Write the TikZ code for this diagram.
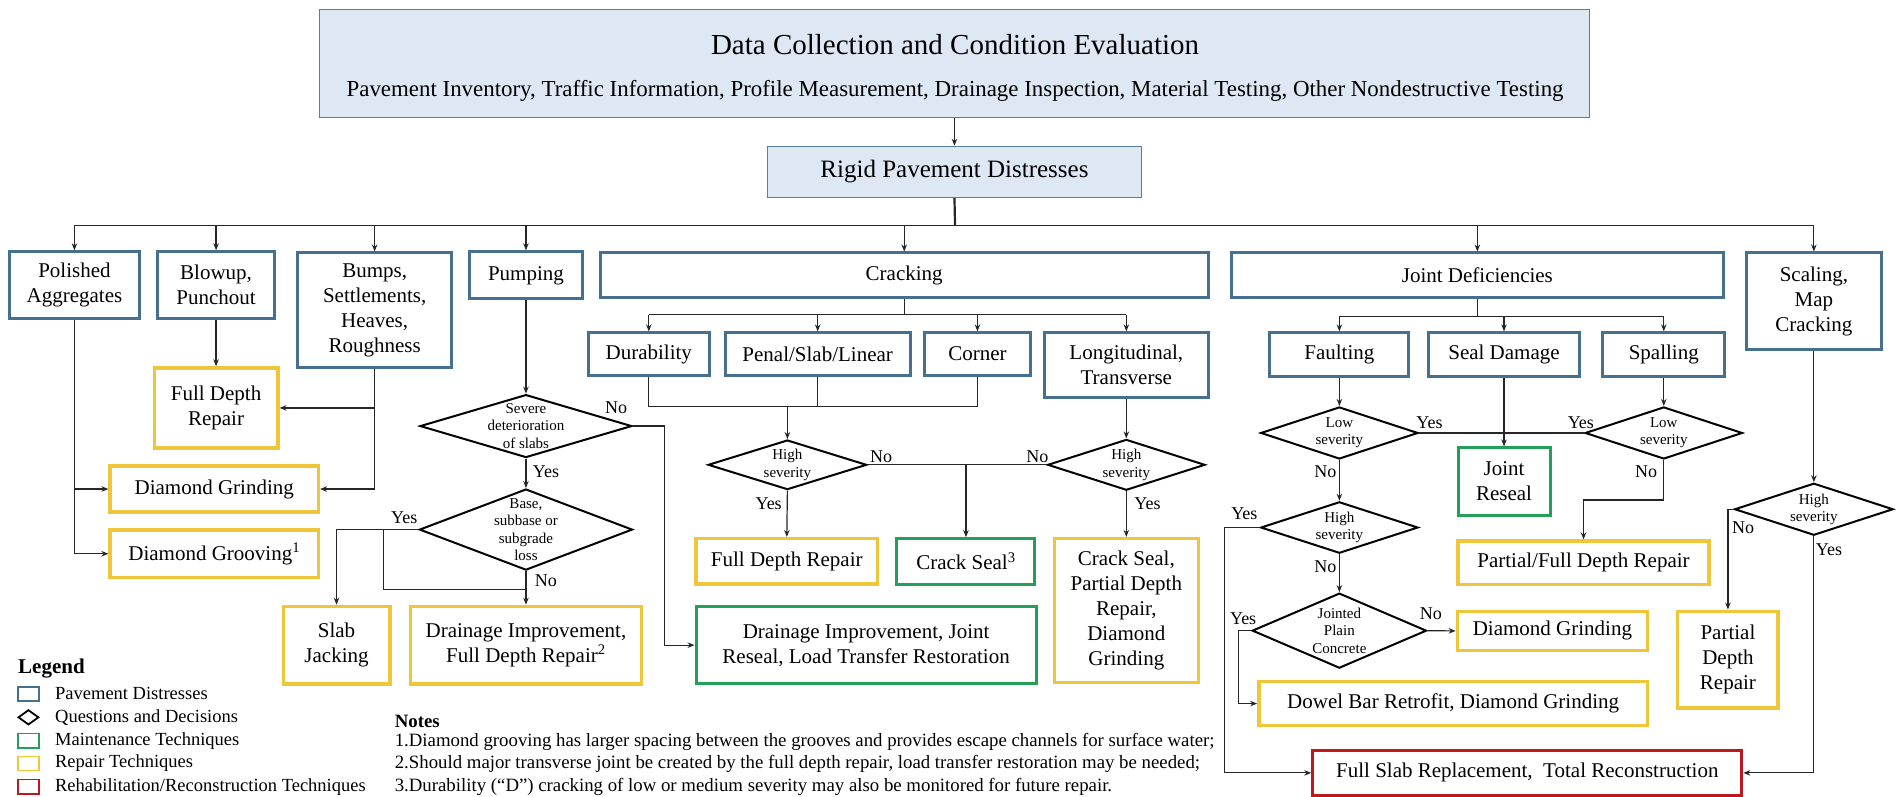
\documentclass[tikz,border=0pt]{standalone}
\usepackage{fontspec}
\setmainfont{Liberation Serif}
\usetikzlibrary{shapes.geometric,fit,arrows.meta}

\definecolor{distblue}{HTML}{45708F}
\definecolor{hdrblue}{HTML}{5A7D9A}
\definecolor{hdrfill}{HTML}{DDE8F4}
\definecolor{maintgreen}{HTML}{22A05A}
\definecolor{repyellow}{HTML}{EFC53A}
\definecolor{rehabred}{HTML}{C0161E}

\newcommand\fs[2]{\fontsize{#1}{#2}\selectfont}
\newcommand\pxu{1.2105pt}
% box from corner (#2,#3) to corner (#4,#5), with its text centred inside
\newcommand\bx[7]{\node[#6, fit={(#2,#3) (#4,#5)}] (#1) {};
  \node[boxtext] at (#1.center) {#7};}
% decision diamond centred at (#2,#3), width #4, height #5
\newcommand\dm[6]{\node[dec, minimum width=#4*\pxu, minimum height=#5*\pxu] (#1) at (#2,#3) {};
  \node[dectext] at (#1.center) {#6};}

\tikzset{
  boxbase/.style={rectangle, inner sep=0pt},
  boxtext/.style={inner sep=0pt, align=center, font=\fs{21}{25}},
  dist/.style={boxbase, draw=distblue, line width=3pt},
  maint/.style={boxbase, draw=maintgreen, line width=3pt},
  repair/.style={boxbase, draw=repyellow, line width=3.5pt},
  rehab/.style={boxbase, draw=rehabred, line width=3pt},
  hdr/.style={rectangle, inner sep=0pt, draw=hdrblue, fill=hdrfill, line width=1.5pt},
  dec/.style={diamond, draw=black, line width=2pt, inner sep=0pt},
  dectext/.style={align=center, inner sep=0pt, font=\fs{15}{17.3}},
  lbl/.style={font=\fs{18}{20}, inner sep=0pt},
  conn/.style={line width=1.2pt, draw=black!85},
  arr/.style={conn, -{Stealth[length=7pt,width=5.5pt]}},
  legtext/.style={anchor=west, inner sep=0pt, font=\fs{18.5}{20}},
  notetext/.style={anchor=west, inner sep=0pt, font=\fs{18.8}{20}},
}

\begin{document}
\begin{tikzpicture}[x=1.2105pt,y=-1.2105pt]
\useasboundingbox (0,0) rectangle (1568,658);

% ---------- header ----------
\node[hdr, fit={(264,8) (1313,97)}] (hdr) {};
\node[anchor=base, inner sep=0pt, font=\fs{29}{32}] (title) at (789,45.4) {Data Collection and Condition Evaluation};
\node[anchor=base, inner sep=0pt, font=\fs{22.9}{26}] (subtitle) at (789,80) {Pavement Inventory, Traffic Information, Profile Measurement, Drainage Inspection, Material Testing, Other Nondestructive Testing};
\node[hdr, fit={(634,121) (943,163)}] (rigid) {};
\node[inner sep=0pt, font=\fs{25}{28}] (rigidtext) at (rigid.center) {Rigid Pavement Distresses};
\draw[arr] (hdr.south) -- (rigid.north);

% ---------- distress categories ----------
\bx{pol}{8}{208}{115}{263}{dist}{Polished\\Aggregates}
\bx{blow}{130}{208}{227}{263}{dist}{Blowup,\\Punchout}
\bx{bump}{246}{209}{373}{304}{dist}{Bumps,\\Settlements,\\Heaves,\\Roughness}
\bx{pump}{388}{208}{481}{247}{dist}{Pumping}
\bx{crack}{496}{209}{998}{246}{dist}{Cracking}
\bx{joint}{1017}{209}{1424}{246}{dist}{Joint Deficiencies}
\bx{scal}{1443}{209}{1554}{289}{dist}{Scaling,\\Map\\Cracking}

\coordinate (bus) at (789,186);
\draw[conn, line width=2.2pt] (rigid.south) -- (bus);
\draw[conn] (pol.north |- bus) -- (scal.north |- bus);
\foreach \n in {pol,blow,bump,pump,crack,joint,scal}
  \draw[arr] (\n.north |- bus) -- (\n.north);

% ---------- cracking sub-types ----------
\bx{dur}{486}{275}{586}{310}{dist}{Durability}
\bx{penal}{599}{275}{752}{310}{dist}{Penal/Slab/Linear}
\bx{corner}{764}{275}{851}{310}{dist}{Corner}
\bx{longi}{863}{275}{998}{328}{dist}{Longitudinal,\\Transverse}
\coordinate (cbus) at (747,260);
\draw[conn] (crack.south) -- (cbus);
\draw[conn] (dur.north |- cbus) -- (longi.north |- cbus);
\foreach \n in {dur,penal,corner,longi}
  \draw[arr] (\n.north |- cbus) -- (\n.north);

% ---------- joint sub-types ----------
\bx{fault}{1049}{275}{1164}{311}{dist}{Faulting}
\bx{seal}{1180}{275}{1305}{311}{dist}{Seal Damage}
\bx{spall}{1324}{275}{1425}{311}{dist}{Spalling}
\coordinate (jbus) at (1220.5,261.6);
\draw[conn] (joint.south) -- (jbus);
\draw[conn] (fault.north |- jbus) -- (spall.north |- jbus);
\foreach \n in {fault,seal,spall}
  \draw[arr] (\n.north |- jbus) -- (\n.north);

% ---------- left column ----------
\bx{fdra}{127.5}{304}{229.5}{370}{repair}{Full Depth\\Repair}
\bx{dga}{91}{385}{263}{423}{repair}{Diamond Grinding}
\bx{dgr}{91}{438}{263}{477}{repair}{Diamond Grooving\textsuperscript{1}}
\draw[arr] (blow.south) -- (fdra.north);
\draw[conn] (pol.south) -- (pol.south |- dgr.west);
\draw[arr] (pol.south |- dga.west) -- (dga.west);
\draw[arr] (pol.south |- dgr.west) -- (dgr.west);
\draw[conn] (bump.south) -- (bump.south |- dga.east);
\draw[arr] (bump.south |- fdra.east) -- (fdra.east);
\draw[arr] (bump.south |- dga.east) -- (dga.east);

% ---------- pumping ----------
\dm{sev}{434.5}{352}{175}{52}{Severe\\deterioration\\of slabs}
\dm{base}{434.5}{437.5}{176}{67}{Base,\\subbase or\\subgrade\\loss}
\bx{slab}{234}{501}{322}{565}{repair}{Slab\\Jacking}
\bx{dfdr}{339}{501}{530}{565}{repair}{Drainage Improvement,\\Full Depth Repair\textsuperscript{2}}
\bx{djl}{575}{501}{856}{565}{maint}{Drainage Improvement, Joint\\Reseal, Load Transfer Restoration}
\coordinate (sevno) at (549,0);
\coordinate (bb) at (316.5,487);
\draw[arr] (pump.south) -- (sev.north);
\draw[arr] (sev.south) -- (base.north);
\draw[arr] (sev.east) -- (sevno |- sev.east) -- (sevno |- djl.west) -- (djl.west);
\draw[arr] (base.west) -| (slab.north);
\draw[conn] (bb |- base.west) -- (bb) -- (base.south |- bb);
\draw[arr] (base.south) -- (dfdr.north);
\node[lbl] at (509,337) {No};
\node[lbl] at (451,390) {Yes};
\node[lbl] at (334,428) {Yes};
\node[lbl] at (451,480) {No};

% ---------- cracking decisions ----------
\dm{hsa}{650.5}{384}{131}{41}{High\\severity}
\dm{hsb}{930.5}{384}{130}{42}{High\\severity}
\bx{fdrb}{575}{445}{725}{482.5}{repair}{Full Depth Repair}
\bx{cs}{741}{445}{855}{482.5}{maint}{Crack Seal\textsuperscript{3}}
\bx{csp}{871}{445}{990}{564}{repair}{Crack Seal,\\Partial Depth\\Repair,\\Diamond\\Grinding}
\coordinate (cm) at (650.5,336);
\draw[conn] (dur.south) -- (dur.south |- cm) -- (corner.south |- cm) -- (corner.south);
\draw[conn] (penal.south) -- (penal.south |- cm);
\draw[arr, line width=1.8pt] (cm) -- (hsa.north);
\draw[arr] (longi.south) -- (hsb.north);
\draw[conn] (hsa.east) -- (hsb.west);
\draw[arr] (cs.north |- hsa.east) -- (cs.north);
\draw[arr] (hsa.south) -- (fdrb.north);
\draw[arr] (hsb.south) -- (csp.north);
\node[lbl] at (635,416) {Yes};
\node[lbl] at (728,377) {No};
\node[lbl] at (857,377) {No};
\node[lbl] at (948,416) {Yes};

% ---------- joint decisions ----------
\dm{lsa}{1106.5}{357.7}{130}{43}{Low\\severity}
\dm{lsb}{1374.5}{357.7}{130}{43}{Low\\severity}
\bx{jr}{1204.5}{370}{1280.5}{425.6}{maint}{Joint\\Reseal}
\dm{hsc}{1106.5}{435.8}{130}{42.5}{High\\severity}
\bx{pfdr}{1204.4}{447}{1412}{483}{repair}{Partial/Full Depth Repair}
\dm{jpc}{1106.5}{521}{144}{62}{Jointed\\Plain\\Concrete}
\bx{dgb}{1204}{505}{1361}{537.5}{repair}{Diamond Grinding}
\bx{dowel}{1040}{563}{1361}{599.5}{repair}{Dowel Bar Retrofit, Diamond Grinding}
\bx{fsr}{1084.5}{620}{1439}{657}{rehab}{Full Slab Replacement,\ \ Total Reconstruction}
\coordinate (lsno) at (0,413);
\coordinate (fx) at (1011.5,0);
\coordinate (jx) at (1023,0);
\draw[arr] (fault.south) -- (lsa.north);
\draw[arr] (spall.south) -- (lsb.north);
\draw[conn] (lsa.east) -- (lsb.west);
\draw[arr] (seal.south) -- (jr.north);
\draw[arr] (lsb.south) -- (lsb.south |- lsno) -| (pfdr.north);
\draw[arr] (lsa.south) -- (hsc.north);
\draw[arr] (hsc.west) -- (fx |- hsc.west) -- (fx |- fsr.west) -- (fsr.west);
\draw[arr] (hsc.south) -- (jpc.north);
\draw[arr] (jpc.west) -- (jx |- jpc.west) -- (jx |- dowel.west) -- (dowel.west);
\draw[arr] (jpc.east) -- (dgb.west);
\node[lbl] at (1181,349) {Yes};
\node[lbl] at (1306,349) {Yes};
\node[lbl] at (1095,390) {No};
\node[lbl] at (1360,390) {No};
\node[lbl] at (1028,424.6) {Yes};
\node[lbl] at (1095,468) {No};
\node[lbl] at (1027,511.5) {Yes};
\node[lbl] at (1182,507) {No};

% ---------- scaling ----------
\dm{hsd}{1498.5}{420.7}{131}{43}{High\\severity}
\bx{pdr}{1386}{505}{1469}{585}{repair}{Partial\\Depth\\Repair}
\draw[arr] (scal.south) -- (hsd.north);
\draw[arr] (hsd.west) -| (pdr.north);
\draw[arr] (hsd.south) |- (fsr.east);
\node[lbl] at (1440,436) {No};
\node[lbl] at (1511,454) {Yes};

% ---------- legend ----------
\node[anchor=west, inner sep=0pt, font=\fs{21}{24}\bfseries] (legend) at (14.9,552.7) {Legend};
\draw[distblue, line width=1.6pt] (15,567.5) rectangle (32,579.1);
\node[dec, line width=1.8pt, minimum width=17*\pxu, minimum height=12.4*\pxu] (legdia) at (23.5,592.6) {};
\draw[maintgreen, line width=1.6pt] (15,606.1) rectangle (32,617.7);
\draw[repyellow, line width=1.6pt] (15,624.8) rectangle (32,636.4);
\draw[rehabred, line width=1.6pt] (15,644.1) rectangle (32,655.7);
\node[legtext] (lga) at (45.4,573.3) {Pavement Distresses};
\node[legtext] (lgb) at (45.4,592.6) {Questions and Decisions};
\node[legtext] (lgc) at (45.4,611.9) {Maintenance Techniques};
\node[legtext] (lgd) at (45.4,630.6) {Repair Techniques};
\node[legtext] (lge) at (45.4,649.9) {Rehabilitation/Reconstruction Techniques};

% ---------- notes ----------
\node[notetext, font=\fs{18.8}{20}\bfseries] (notes) at (326,596) {Notes};
\node[notetext] (na) at (326,613) {1.Diamond grooving has larger spacing between the grooves and provides escape channels for surface water;};
\node[notetext] (nb) at (326,631) {2.Should major transverse joint be created by the full depth repair, load transfer restoration may be needed;};
\node[notetext] (nc) at (326,650) {3.Durability (“D”) cracking of low or medium severity may also be monitored for future repair.};
\end{tikzpicture}
\end{document}
